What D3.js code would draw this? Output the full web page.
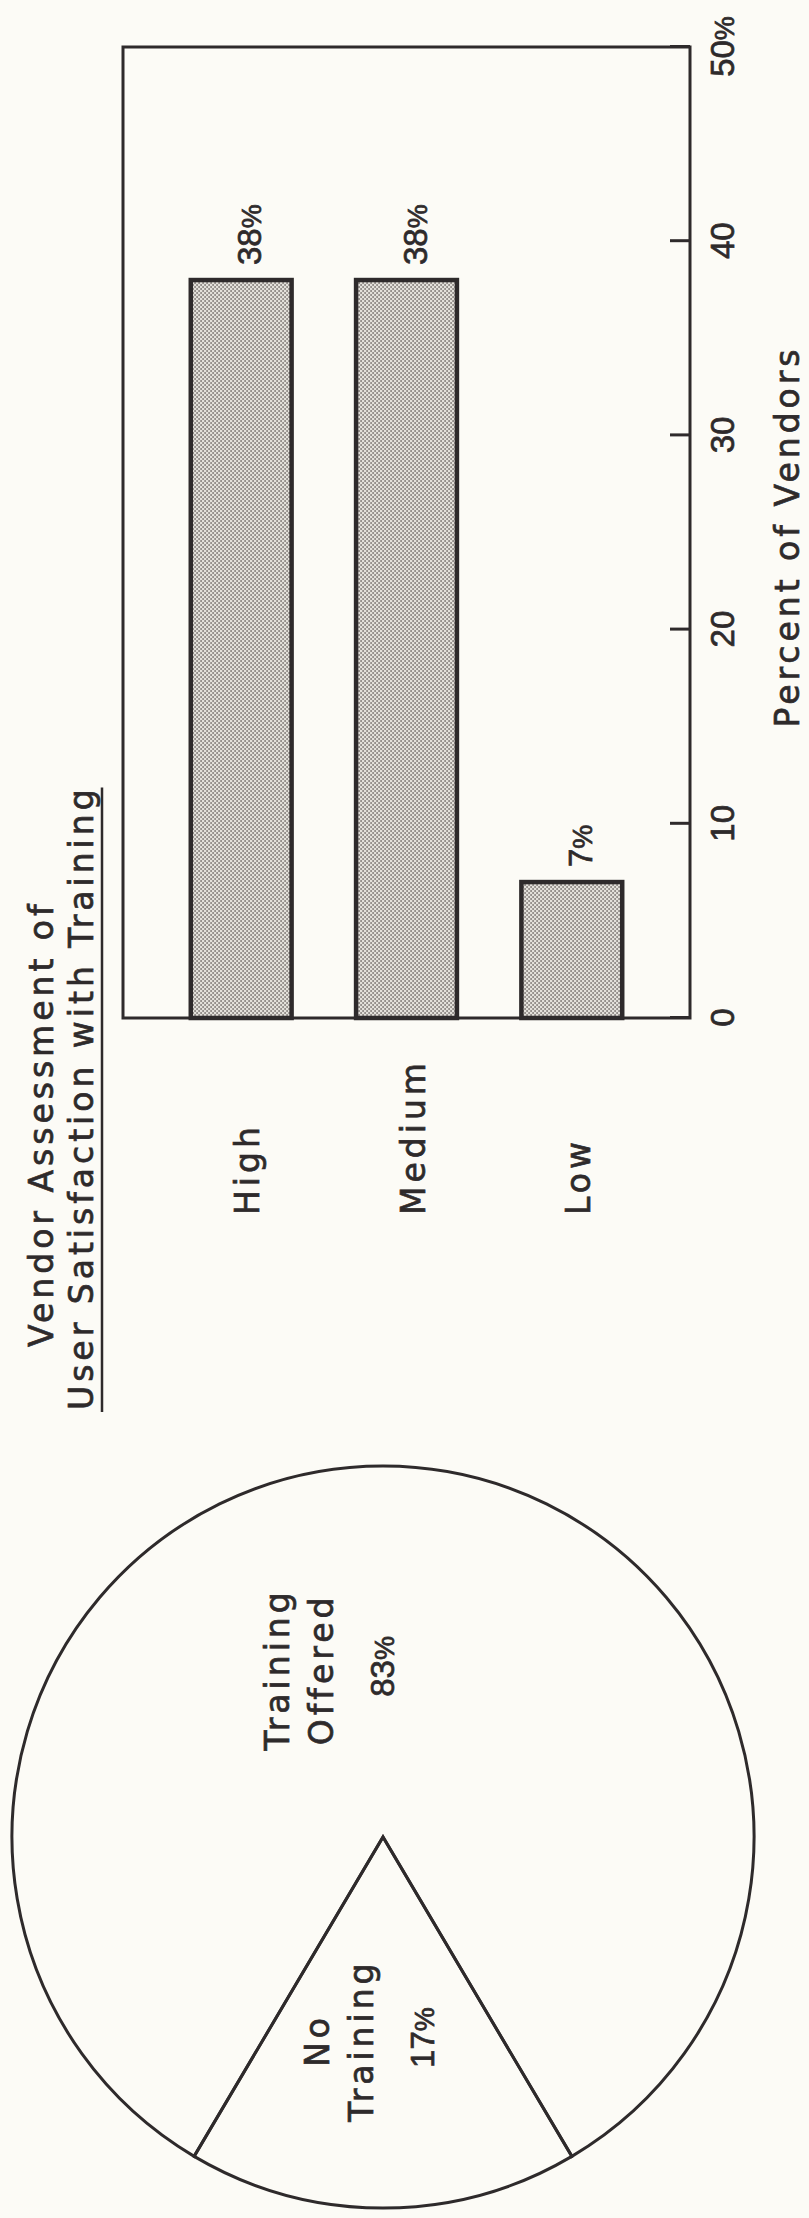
<!DOCTYPE html>
<html>
<head>
<meta charset="utf-8">
<script src="https://cdn.jsdelivr.net/npm/d3@7"></script>
<style>
  html, body { margin: 0; padding: 0; background: #fcfbf6; }
  svg { display: block; }
  svg text { stroke: #2e2a2b; stroke-width: 0.7px; paint-order: stroke; }
</style>
</head>
<body>
<div id="chart"></div>
<script>
// ---- data ----
const satisfactionLevels = ["High", "Medium", "Low"];
const satisfactionPercent = [38, 38, 7];
const valueTicks = [0, 10, 20, 30, 40, 50];
const trainingSlices = ["No Training", "Training Offered"];
const trainingPercent = [17, 83];
const chartTitle = ["Vendor Assessment of", "User Satisfaction with Training"];
const axisTitle = "Percent of Vendors";

// ---- styling ----
const W = 809, H = 2218;
const ink = "#2e2a2b";
const paper = "#fcfbf6";
const wordFont = "'DejaVu Sans', sans-serif";
const numFont = "'Liberation Sans', Arial, sans-serif";
const wordSize = 33, numSize = 33, pctSize = 27, tracking = 4;

const svg = d3.select("#chart").append("svg")
  .attr("width", W).attr("height", H);
svg.append("rect").attr("width", W).attr("height", H).attr("fill", paper);

// stippled halftone fill for the bars
const defs = svg.append("defs");
const pat = defs.append("pattern")
  .attr("id", "stipple").attr("patternUnits", "userSpaceOnUse")
  .attr("width", 4).attr("height", 4);
pat.append("rect").attr("width", 4).attr("height", 4).attr("fill", "#e3e0da");
pat.append("circle").attr("cx", 1).attr("cy", 1).attr("r", 0.85).attr("fill", "#58524f");
pat.append("circle").attr("cx", 3).attr("cy", 3).attr("r", 0.85).attr("fill", "#58524f");

// the figure is laid out landscape and turned a quarter turn counter-clockwise
const page = svg.append("g").attr("transform", `translate(0,${H}) rotate(-90)`);

// appends "NN%" with a smaller percent sign
function percentText(sel, v) {
  sel.append("tspan").text(v);
  sel.append("tspan").attr("font-size", pctSize).text("%");
}

// ---- bar chart ----
const x = d3.scaleLinear().domain([0, 50]).range([1200, 2171]);
const y = d3.scaleBand().domain(satisfactionLevels)
  .range([123, 690]).paddingInner(0.39).paddingOuter(0.41);

// frame
page.append("rect")
  .attr("x", x(0)).attr("y", y.range()[0])
  .attr("width", x(50) - x(0)).attr("height", y.range()[1] - y.range()[0])
  .attr("fill", "none").attr("stroke", ink).attr("stroke-width", 3);

// bars
page.append("g").selectAll("rect")
  .data(satisfactionPercent)
  .join("rect")
  .attr("x", x(0))
  .attr("y", (d, i) => y(satisfactionLevels[i]))
  .attr("width", d => x(d) - x(0))
  .attr("height", y.bandwidth())
  .attr("fill", "url(#stipple)")
  .attr("stroke", ink).attr("stroke-width", 4.5);

// value labels beyond each bar
page.append("g").selectAll("text")
  .data(satisfactionPercent)
  .join("text")
  .attr("x", d => x(d) + 15)
  .attr("y", (d, i) => y(satisfactionLevels[i]) + y.bandwidth() / 2 + 20)
  .attr("font-family", numFont).attr("font-size", numSize).attr("fill", ink)
  .each(function (d) { percentText(d3.select(this), d); });

// category labels
page.append("g").selectAll("text")
  .data(satisfactionLevels)
  .join("text")
  .attr("x", 1003)
  .attr("y", d => y(d) + y.bandwidth() / 2 + 18)
  .attr("font-family", wordFont).attr("font-size", wordSize)
  .attr("letter-spacing", tracking).attr("fill", ink)
  .text(d => d);

// value axis along the bottom of the frame, ticks pointing inward
const axis = d3.axisBottom(x)
  .tickValues(valueTicks)
  .tickSize(-20)
  .tickPadding(21)
  .tickFormat(d3.format("d"));
const ag = page.append("g")
  .attr("transform", `translate(0,${y.range()[1]})`)
  .attr("color", ink)
  .call(axis);
ag.select(".domain").remove();
ag.selectAll(".tick line").attr("stroke-width", 3);
ag.selectAll(".tick text")
  .attr("font-family", numFont).attr("font-size", numSize).attr("fill", ink);
ag.selectAll(".tick text").filter(d => d === d3.max(valueTicks))
  .append("tspan").attr("font-size", pctSize).text("%");

// axis title
page.append("text")
  .attr("x", (x(0) + x(50)) / 2 - 4)
  .attr("y", 799)
  .attr("text-anchor", "middle")
  .attr("font-family", wordFont).attr("font-size", wordSize)
  .attr("letter-spacing", tracking).attr("fill", ink)
  .text(axisTitle);

// chart title, second line underlined
const titleStarts = [871, 808];
const titleBaselines = [53, 93];
const titleNodes = page.append("g").selectAll("text")
  .data(chartTitle)
  .join("text")
  .attr("x", (d, i) => titleStarts[i])
  .attr("y", (d, i) => titleBaselines[i])
  .attr("font-family", wordFont).attr("font-size", wordSize)
  .attr("letter-spacing", tracking).attr("fill", ink)
  .text(d => d);
const lastTitle = titleNodes.nodes()[chartTitle.length - 1];
const tb = lastTitle.getBBox();
page.append("line")
  .attr("x1", tb.x - 2).attr("x2", tb.x + tb.width - tracking + 2)
  .attr("y1", 102).attr("y2", 102)
  .attr("stroke", ink).attr("stroke-width", 2.5);

// ---- pie chart ----
const pieCx = 381, pieCy = 383, R = 371;
const firstSpan = 2 * Math.PI * trainingPercent[0] / 100;
const start = 1.5 * Math.PI - firstSpan / 2;   // first slice centred on the left
const pie = d3.pie().sort(null).startAngle(start).endAngle(start + 2 * Math.PI);
const arcs = pie(trainingPercent);
const arc = d3.arc().innerRadius(0).outerRadius(R);

const pg = page.append("g").attr("transform", `translate(${pieCx},${pieCy})`);
pg.selectAll("path")
  .data(arcs)
  .join("path")
  .attr("d", arc)
  .attr("fill", "none")
  .attr("stroke", ink).attr("stroke-width", 3)
  .attr("stroke-linejoin", "miter");

// slice labels: name lines plus percentage
const labelRadius = [0.55, 0.475];
const labelNudge = [4, -18];   // degrees
const lineOffsets = [-40, 4, 65];
arcs.forEach((a, i) => {
  const mid = (a.startAngle + a.endAngle) / 2 + labelNudge[i] * Math.PI / 180;
  const r = R * labelRadius[i];
  const lx = r * Math.sin(mid), ly = -r * Math.cos(mid);
  const words = trainingSlices[i].split(" ");
  words.forEach((w, k) => {
    pg.append("text")
      .attr("x", lx).attr("y", ly + lineOffsets[k])
      .attr("text-anchor", "middle")
      .attr("font-family", wordFont).attr("font-size", wordSize)
      .attr("letter-spacing", tracking).attr("fill", ink)
      .text(w);
  });
  const pt = pg.append("text")
    .attr("x", lx + 3).attr("y", ly + lineOffsets[2])
    .attr("text-anchor", "middle")
    .attr("font-family", numFont).attr("font-size", numSize).attr("fill", ink);
  percentText(pt, trainingPercent[i]);
});
</script>
</body>
</html>
